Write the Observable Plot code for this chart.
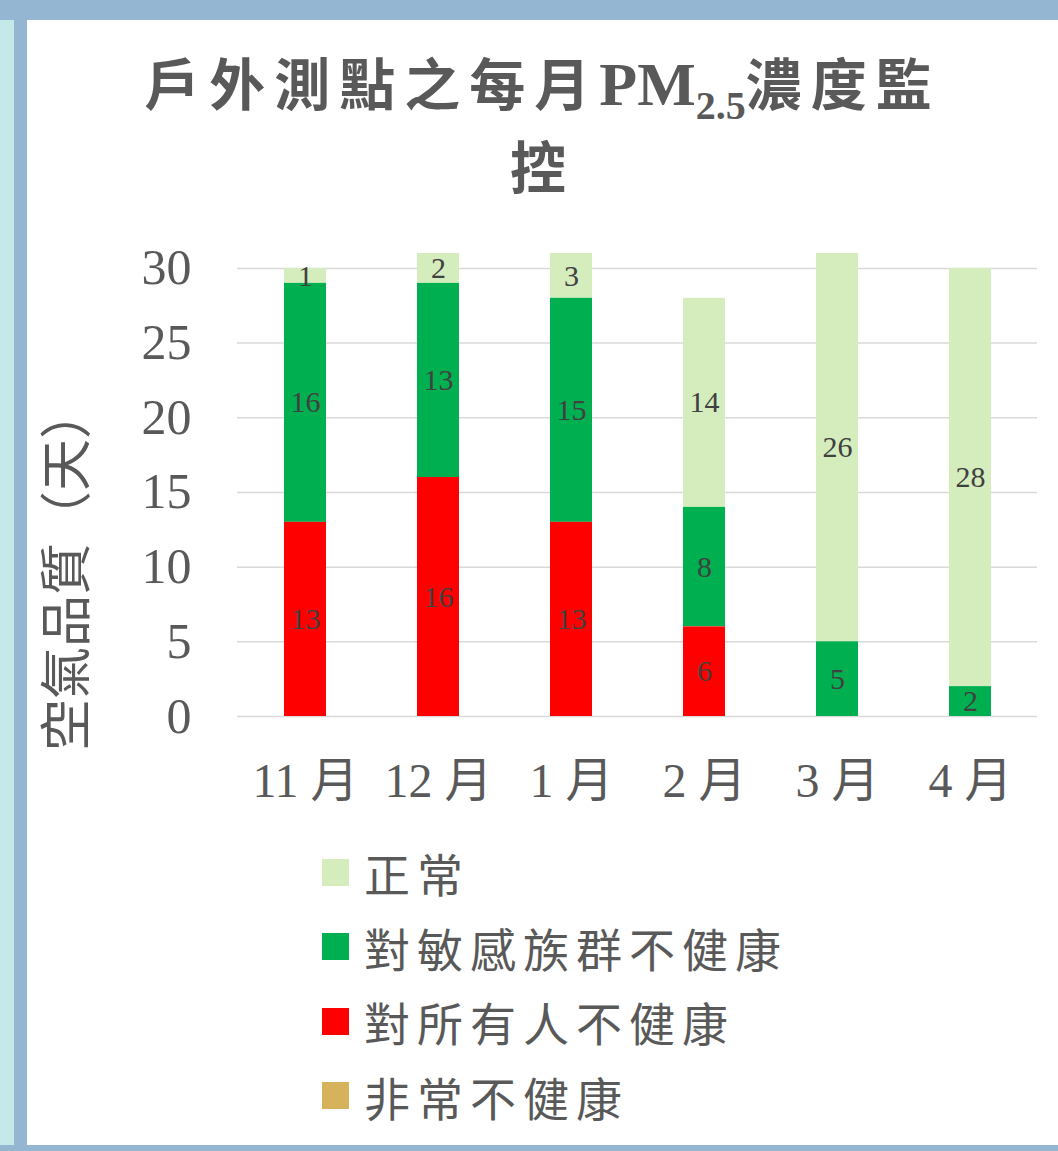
<!DOCTYPE html>
<html>
<head>
<meta charset="utf-8">
<script src="https://cdn.jsdelivr.net/npm/d3@7"></script>
<script src="https://cdn.jsdelivr.net/npm/@observablehq/plot@0.6"></script>
<style>
  html, body { margin: 0; padding: 0; background: #ffffff; }
  body { width: 1058px; height: 1151px; position: relative; overflow: hidden;
         font-family: "Liberation Serif", "Noto Sans CJK TC", serif; color: #595959; }
  .bar { position: absolute; }
  #title { position: absolute; left: 27px; top: 43px; width: 1031px; text-align: center;
           font-weight: bold; font-size: 56px; line-height: 83px; letter-spacing: 9px; color: #595959; }
  #title .pm { font-family: "Liberation Serif", serif; font-size: 62px; letter-spacing: 0; }
  #title sub { font-family: "Liberation Serif", serif; font-size: 40px; letter-spacing: 0; vertical-align: -14px; line-height: 0; }
  #chart { position: absolute; left: 27px; top: 220px; }
  #legend { position: absolute; left: 322px; top: 835px; }
  .item { position: absolute; left: 0; height: 74px; display: flex; align-items: center; white-space: nowrap;
          font-size: 46px; letter-spacing: 7px; color: #595959; }
  .sw { width: 27px; height: 27px; margin-right: 15px; flex: none; }
</style>
</head>
<body>
<div class="bar" style="left:0;top:0;width:1058px;height:20px;background:#94B6D2"></div>
<div class="bar" style="left:0;top:20px;width:14px;height:1131px;background:#C5E8E8"></div>
<div class="bar" style="left:14px;top:20px;width:13px;height:1131px;background:#94B6D2"></div>
<div class="bar" style="left:0;top:1145px;width:1058px;height:6px;background:#94B6D2"></div>
<div id="title"></div>
<div id="chart"></div>
<div id="legend"></div>
<script>
const titleMain = "戶外測點之每月";
const titlePM = "PM";
const titleSub = "2.5";
const titleEnd1 = "濃度監";
const titleEnd2 = "控";
const yLabel = "空氣品質（天）";
const months = ["11 月", "12 月", "1 月", "2 月", "3 月", "4 月"];
const seriesNames = ["正常", "對敏感族群不健康", "對所有人不健康", "非常不健康"];
const normal = [1, 2, 3, 14, 26, 28];
const sensitive = [16, 13, 15, 8, 5, 2];
const allUnhealthy = [13, 16, 13, 6, 0, 0];
const veryUnhealthy = [0, 0, 0, 0, 0, 0];
const colors = ["#D5ECBD", "#00B050", "#FF0000", "#D6B25C"];
const yTicks = [0, 5, 10, 15, 20, 25, 30];
const stackOrder = ["非常不健康", "對所有人不健康", "對敏感族群不健康", "正常"];

const seriesValues = [normal, sensitive, allUnhealthy, veryUnhealthy];
const rows = [];
months.forEach((m, i) => {
  seriesNames.forEach((s, j) => {
    const v = seriesValues[j][i];
    if (v > 0) rows.push({month: m, series: s, value: v});
  });
});

document.getElementById("title").innerHTML =
  titleMain + '<span class="pm">' + titlePM + '<sub>' + titleSub + '</sub></span>' + titleEnd1 + '<br>' + titleEnd2;

const chart = Plot.plot({
  width: 1031,
  height: 610,
  marginLeft: 210,
  marginRight: 21,
  marginTop: 33,
  marginBottom: 114,
  style: {fontFamily: '"Liberation Serif", "Noto Sans CJK TC", serif', color: "#595959", background: "transparent", overflow: "visible"},
  x: {domain: months, paddingInner: 0.685, paddingOuter: 0.3425},
  y: {domain: [0, 31]},
  color: {domain: seriesNames, range: colors},
  marks: [
    Plot.ruleY(yTicks, {stroke: "#D9D9D9", strokeWidth: 1.5}),
    Plot.barY(rows, Plot.stackY({order: stackOrder, x: "month", y: "value", z: "series", fill: "series"})),
    Plot.text(rows, Plot.stackY({order: stackOrder, x: "month", y: "value", z: "series", text: d => String(d.value), fill: "#404040", fontSize: 30})),
    Plot.axisY({ticks: yTicks, tickSize: 0, tickPadding: 46, fontSize: 50, label: null}),
    Plot.axisX({tickSize: 0, tickPadding: 46, fontSize: 48, label: null}),
    Plot.text([yLabel], {frameAnchor: "left", dx: -169, dy: 266, rotate: -90, fontSize: 52, fill: "#595959"})
  ]
});
document.getElementById("chart").appendChild(chart);

const legend = document.getElementById("legend");
seriesNames.forEach((s, j) => {
  const it = document.createElement("div");
  it.className = "item";
  it.style.top = (j * 74.5) + "px";
  const sw = document.createElement("span");
  sw.className = "sw";
  sw.style.background = colors[j];
  const tx = document.createElement("span");
  tx.textContent = s;
  it.appendChild(sw);
  it.appendChild(tx);
  legend.appendChild(it);
});
</script>
</body>
</html>
